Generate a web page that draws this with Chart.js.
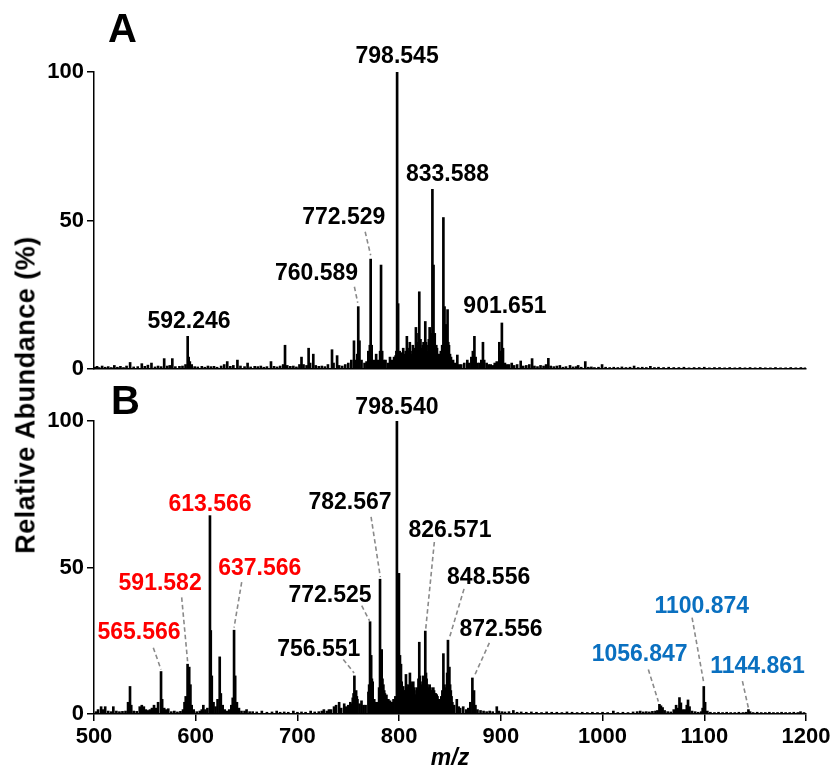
<!DOCTYPE html>
<html><head><meta charset="utf-8">
<script src="https://cdn.jsdelivr.net/npm/chart.js@4.4.0/dist/chart.umd.min.js"></script>
<style>
html,body{margin:0;padding:0;background:#fff;}
#wrap{position:relative;width:839px;height:770px;overflow:hidden;}
#ca{position:absolute;left:0;top:0;}
#cb{position:absolute;left:0;top:380px;}
#ytitle{position:absolute;left:26px;top:395px;transform:translate(-50%,-50%) rotate(-90deg);font:bold 27px "Liberation Sans",Arial,sans-serif;letter-spacing:0.5px;white-space:nowrap;color:#000;}
</style></head>
<body><div id="wrap">
<canvas id="ca" width="839" height="395"></canvas>
<canvas id="cb" width="839" height="392"></canvas>
<div id="ytitle">Relative Abundance (%)</div>
</div>
<script>
// ---- data (m/z, relative abundance %) ----
const xTicks = [500,600,700,800,900,1000,1100,1200];
const yTicks = [0,50,100];

const spectrumA = [[501,0.6],[503,0.9],[505,0.5],[508,1.0],[511,0.6],[514,0.8],[517,0.5],[520,1.2],[523,0.6],[526,0.9],[529,0.5],[532,1.0],[535.5,2.2],[539,0.7],[543,0.8],[547,1.8],[550,0.9],[553,1.3],[556.5,2.0],[560,0.7],[563,1.0],[566,0.8],[569,3.5],[572,1.0],[574.5,1.2],[577,3.5],[580,0.8],[584,0.9],[587,1.0],[590,1.5],[592.1,11],[593.1,4],[594.2,2.5],[596,1.5],[599,0.8],[602,0.7],[606,0.9],[609,0.6],[612,1.0],[615,0.8],[618,0.9],[621,0.6],[625,1.0],[628,1.5],[631,2.5],[634,0.9],[637,1.2],[641,3.0],[644,1.0],[648,0.8],[651,2.0],[654,0.7],[658,0.9],[661,0.8],[664,1.0],[667,0.6],[670,0.8],[674,2.5],[677,0.9],[680,0.7],[683,1.0],[686,1.5],[687.8,8],[690,1.2],[693,0.9],[696,1.0],[699,0.7],[702,1.5],[704,4],[706,1.5],[709,1.2],[711,7],[712.5,2],[715.6,5],[718,1.2],[721,0.9],[724,1.0],[727,0.8],[730,1.5],[734,6.5],[735.5,2],[739,4.5],[741,1.2],[744,1.0],[747,1.5],[750,2.0],[753,3],[755.6,9.5],[757.2,3],[758.8,5],[759.8,21],[761,9.5],[763,3],[766,2],[768,2.5],[769.7,6],[771.2,8],[772,37],[773,8],[775,3],[777.4,5],[779.5,3],[781.3,6],[782.2,35],[783.3,6],[785,3],[786.6,3],[789,2],[791,4],[793,3],[795,4],[796.5,4.5],[797.3,6],[798,100],[799,22],[800.5,6],[801.2,4],[802,5],[803,5.5],[804,7],[805.5,5],[806.5,6],[807.6,11],[808.3,7],[809,6],[810.5,9],[811.2,6],[812,5],[813.5,8],[814.3,7],[815,6],[816.5,14],[817.3,8],[818,9],[819,12],[819.8,26],[821,10],[822.5,7],[823.2,8],[824,9],[825.7,16],[826.4,9],[827,8],[828.5,6],[829.2,10],[830,14],[831.3,8],[832,12],[832.7,60.5],[833.8,35],[835,12],[836.5,8],[837.2,7],[838,5],[839.5,4],[840.2,5],[841,6],[842.3,8],[843.5,51],[844.6,21],[845.8,15],[846.7,12],[847.6,20],[848.3,9],[849,8],[850,5],[851,4],[853,3],[855,2],[857.2,4.7],[859,1.5],[861,1.5],[864,2],[867,3],[869,2],[871,4],[872.5,6],[874,11],[875.2,4],[877,2],[879,2],[880.8,3],[882.4,9],[883.6,3],[886,2],[888,1.5],[890,1.5],[892,1.2],[894,2],[896,2.5],[898.5,9],[899.8,6],[901,15.5],[902.1,7],[904,2],[906,1.5],[908,1.5],[910.7,2],[913,1.2],[916,1.5],[919.5,2.7],[922,1.0],[925,1.2],[928,1.5],[930.7,3.5],[933,1.0],[936,0.8],[939,1.2],[942,1.0],[944.5,1.5],[946.7,3.6],[949,1.0],[952,0.8],[955,1.0],[958,1.2],[961,0.6],[964,0.8],[968,1.2],[971,0.7],[974,0.8],[976,1.2],[979,0.6],[983,2.5],[986,0.6],[989,0.7],[992,0.5],[996,0.6],[999.5,1.5],[1003,0.6],[1007,0.5],[1011,0.6],[1015,0.5],[1019,0.7],[1023,0.5],[1027,0.6],[1031,1.0],[1035,0.5],[1039,0.6],[1043,0.5],[1047,0.9],[1051,0.5],[1055,0.6],[1060,0.5],[1065,0.6],[1070,0.5],[1075,0.5],[1080,0.6],[1085,0.4],[1090,0.5],[1095,0.5],[1100,0.6],[1105,0.4],[1110,0.5],[1115,0.5],[1120,0.4],[1125,0.5],[1130,0.4],[1135,0.5],[1140,0.4],[1145,0.5],[1150,0.4],[1155,0.5],[1160,0.4],[1165,0.4],[1170,0.5],[1175,0.4],[1180,0.4],[1185,0.5],[1190,0.4],[1195,0.5],[1199,0.4]];

const spectrumB = [[502,0.8],[504,1.5],[507,2.5],[509,1.5],[511,2.5],[514,1.0],[517,0.8],[519,2.5],[522,1.0],[525,0.8],[528,0.9],[531,1.0],[533.5,4],[535.4,9.4],[536.6,3],[539,1.0],[542,0.9],[545,2.5],[547,3],[549,2.5],[551,1.5],[553,1.2],[555,1.5],[557,2],[559,3],[561,2],[563,4],[565.9,14.5],[567,5],[569,2],[571,1.5],[573,1.8],[576,0.8],[579,1.0],[582,0.7],[585,0.9],[587.5,1.5],[589,4],[590.2,6],[592,17],[593.6,16],[594.8,10],[596,3],[598,1.5],[601,0.8],[604,1.0],[606,1.5],[607.5,3],[609.5,1.5],[611.5,2],[614,67.7],[614.8,28.5],[615.8,13],[617.5,4],[619.5,2.5],[621.5,5],[623.6,19.5],[624.7,7],[626.5,3],[628.5,1.5],[631,1.0],[633,1.5],[635,3],[636.4,5.5],[637.7,28.6],[638.8,13],[640.5,4],[642.5,2],[645,1],[648,1.0],[650,1.5],[653,0.8],[656,0.8],[660,0.7],[665,1.0],[670,0.6],[675,0.7],[679.6,1.0],[683,0.6],[687,0.7],[691,0.6],[696,1.0],[700,0.6],[704,0.7],[708,0.6],[713,1.0],[717,0.7],[721,0.8],[724,1.0],[726,1.5],[729,1.0],[731,1.5],[733,1.5],[736,2.5],[738,3],[741,4],[743,2],[746,3.5],[748,2.5],[750,3],[752,4],[753,3.5],[754.4,5.5],[755.2,7],[756,13],[757.7,8],[758.4,6],[759,5],[761,3.5],[763,4.5],[765,3],[767,3],[769.8,7.5],[770.5,10],[771.4,31.5],[772.5,20],[773.2,12],[774,11],[775.5,5],[777,4],[779,4],[780.3,9],[781.2,46],[782.8,22],[783.6,12],[784.5,10],[785.3,8],[786,7],[787.5,6.5],[788.6,5],[789.4,5],[791,4.5],[793,4],[794.5,5],[796.3,6],[797.8,100],[799.8,48],[800.8,20],[801.8,17],[802.5,11],[803,9],[804,9.4],[804.7,8],[805.5,8],[806.7,13.5],[807.3,10],[808,9],[808.8,9],[809.5,10],[810.6,14],[811.3,11],[812,9],[813,10],[813.9,11],[814.5,9],[815,8],[816.5,6.6],[817.2,9],[818,8],[819,12],[819.8,24.5],[820.4,13],[821,11],[822,10],[822.5,9],[823.7,13],[824.2,12],[824.7,10],[825.7,28.3],[826.4,14],[827,12],[827.8,10],[828.5,8],[829.2,9],[830,10],[830.8,9],[831.5,8],[832.5,8],[833.6,9],[834.3,8],[835,7],[836,7],[836.9,6.6],[837.7,6],[838.5,5],[839.3,5],[840,5],[841.5,6],[842.5,8],[843.5,20.6],[844.6,10],[845.3,9],[846,8],[847.2,14],[848,25.2],[849.4,16],[850.1,10],[850.8,8],[851.5,6],[852.3,4],[854,3],[856.7,5],[858.5,2.5],[860,2],[863,2.5],[866,1.5],[868,2],[870,4],[872,12.3],[873.6,8],[875,3],[877,1.5],[880,1.2],[883,1.0],[886,0.8],[889,1.0],[892,0.8],[896,2.5],[898,1.0],[901,0.8],[904,0.7],[908,0.8],[912.3,1.2],[916,0.6],[920,0.7],[925,0.6],[930,0.7],[935,0.6],[940,0.5],[945,0.7],[950,0.6],[955,0.6],[960,0.5],[965,0.7],[970,0.6],[975,0.5],[980,0.6],[985,0.5],[990,0.6],[995,0.5],[1000,0.6],[1005,0.5],[1010.6,1.0],[1015,0.5],[1020,0.6],[1025,0.5],[1030,0.7],[1034,0.8],[1037,1.0],[1040,0.7],[1043,0.8],[1046,0.7],[1049,0.9],[1052,1.0],[1054,1.2],[1055.9,3.3],[1057.4,2.8],[1059,2.2],[1061,1.2],[1064,0.8],[1067,0.7],[1070,1.5],[1072.3,3],[1074,2],[1075.6,5.6],[1077,3.8],[1079,1.5],[1081,1.5],[1082.8,3],[1084,4.8],[1085.5,2.5],[1088,1],[1091,0.8],[1094,0.6],[1097,0.8],[1098.4,2],[1099.5,9.4],[1100.8,4],[1103,1],[1106,0.6],[1110,0.5],[1114,0.6],[1118,0.5],[1122,0.6],[1126,0.5],[1130,0.5],[1134,0.6],[1138,0.5],[1141,0.6],[1143.4,1.5],[1145,0.8],[1148,0.5],[1152,0.6],[1156,0.5],[1160,0.5],[1164,0.6],[1168,0.5],[1172,0.5],[1176,0.6],[1180,0.5],[1184,0.5],[1188,0.6],[1192,0.5],[1194.6,0.8],[1198,0.5]];

// peak labels: text, label centre (m/z, %), optional leader line (from m/z,% to m/z,%)
const labelsA = [
  {text:'798.545', at:[798,105]},
  {text:'833.588', at:[847.6,65.3]},
  {text:'772.529', at:[745.5,50.8], line:[766.6,46.2,772,38.3]},
  {text:'760.589', at:[718.8,32], line:[756,27.7,759.3,22.3]},
  {text:'592.246', at:[593.4,16]},
  {text:'901.651', at:[904,21]}
];
const labelsB = [
  {text:'798.540', at:[797.8,104.6]},
  {text:'613.566', at:[614,71.6], color:'red'},
  {text:'591.582', at:[565,44.6], color:'red', line:[586.2,39.8,592,18]},
  {text:'637.566', at:[663,49.5], color:'red', line:[645.2,45,637.7,29.5]},
  {text:'565.566', at:[544.2,27.8], color:'red', line:[558.3,22.6,565.9,15.2]},
  {text:'782.567', at:[751.7,72], line:[772.4,67.3,781.5,46.7]},
  {text:'772.525', at:[732,40.4], line:[763.2,37,770.9,31.8]},
  {text:'756.551', at:[721,22], line:[745.1,18.6,755.7,14]},
  {text:'826.571', at:[850,62.7], line:[834.6,58.7,826.1,28.9]},
  {text:'848.556', at:[888,46.7], line:[863.8,42.7,849,25.5]},
  {text:'872.556', at:[900.2,28.9], line:[888.7,24.3,874.6,13.5]},
  {text:'1100.874', at:[1097.5,36.6], color:'blue', line:[1088,32.9,1099.5,10.6]},
  {text:'1056.847', at:[1036.4,20.3], color:'blue', line:[1045,15.2,1054.8,4.3]},
  {text:'1144.861', at:[1152.4,16.3], color:'blue', line:[1137.5,11.2,1143.4,2]}
];

const COLORS = {black:'#000000', red:'#ff0000', blue:'#0a70c0', leader:'#8a8a8a'};
const FONT = '"Liberation Sans", Arial, Helvetica, sans-serif';

const peakLabels = {
  id:'peakLabels',
  afterDatasetsDraw(chart, args, opts){
    const ctx = chart.ctx, xs = chart.scales.x, ys = chart.scales.y;
    ctx.save();
    (opts.items||[]).forEach(it=>{
      if(it.line){
        ctx.beginPath();
        ctx.setLineDash([4.5,3]);
        ctx.strokeStyle = COLORS.leader;
        ctx.lineWidth = 1.6;
        ctx.moveTo(xs.getPixelForValue(it.line[0]), ys.getPixelForValue(it.line[1]));
        ctx.lineTo(xs.getPixelForValue(it.line[2]), ys.getPixelForValue(it.line[3]));
        ctx.stroke();
        ctx.setLineDash([]);
      }
    });
    ctx.font = 'bold 23px ' + FONT;
    ctx.textAlign = 'center';
    ctx.textBaseline = 'middle';
    (opts.items||[]).forEach(it=>{
      ctx.fillStyle = COLORS[it.color||'black'];
      ctx.fillText(it.text, xs.getPixelForValue(it.at[0]), ys.getPixelForValue(it.at[1]));
    });
    if(opts.panel){
      ctx.font = 'bold 40px ' + FONT;
      ctx.textAlign = 'left';
      ctx.textBaseline = 'middle';
      ctx.fillStyle = '#000';
      ctx.fillText(opts.panel.text, opts.panel.x, opts.panel.y);
    }
    ctx.restore();
  }
};

function makeChart(canvasId, spectrum, labels, panel, isBottom, pad){
  const pts = spectrum.map(p=>({x:p[0], y:p[1]})).sort((a,b)=>a.x-b.x);
  return new Chart(document.getElementById(canvasId), {
    type:'bar',
    data:{datasets:[{
      data: pts,
      backgroundColor:'#000', borderWidth:0, barThickness:2, grouped:false
    }]},
    options:{
      responsive:false, animation:false, events:[],
      layout:{padding:pad},
      plugins:{legend:{display:false}, tooltip:{enabled:false},
        peakLabels:{items:labels, panel:panel}},
      scales:{
        x:{type:'linear', min:500, max:1200, offset:false,
          afterBuildTicks(s){ s.ticks = xTicks.map(v=>({value:v})); },
          afterFit(s){ s.height = isBottom ? 58 : 0; },
          grid:{display:true, offset:false, drawOnChartArea:false, drawTicks:isBottom, tickLength:7, color:'#000', lineWidth:1.5},
          border:{display:true, color:'#000', width:1.5},
          ticks:{display:isBottom, color:'#000', padding:3, maxRotation:0, autoSkip:false,
            callback:(v)=>String(v),
            font:{family:FONT, size:22, weight:'bold'}},
          title:{display:isBottom, text:'m/z', color:'#000', padding:{top:0,bottom:0},
            font:{family:FONT, size:23, weight:'bold', style:'italic'}}
        },
        y:{type:'linear', min:0, max:100,
          afterBuildTicks(s){ s.ticks = yTicks.map(v=>({value:v})); },
          afterFit(s){ s.width = 94; },
          grid:{display:true, drawOnChartArea:false, drawTicks:true, tickLength:7, color:'#000', lineWidth:1.5},
          border:{display:true, color:'#000', width:1.5},
          ticks:{color:'#000', padding:3, font:{family:FONT, size:22, weight:'bold'}}
        }
      }
    },
    plugins:[peakLabels]
  });
}

makeChart('ca', spectrumA, labelsA, {text:'A', x:108, y:31}, false, {left:0, right:33, top:72, bottom:26});
makeChart('cb', spectrumB, labelsB, {text:'B', x:111, y:23}, true, {left:0, right:33, top:41, bottom:0});
</script>
</body></html>
